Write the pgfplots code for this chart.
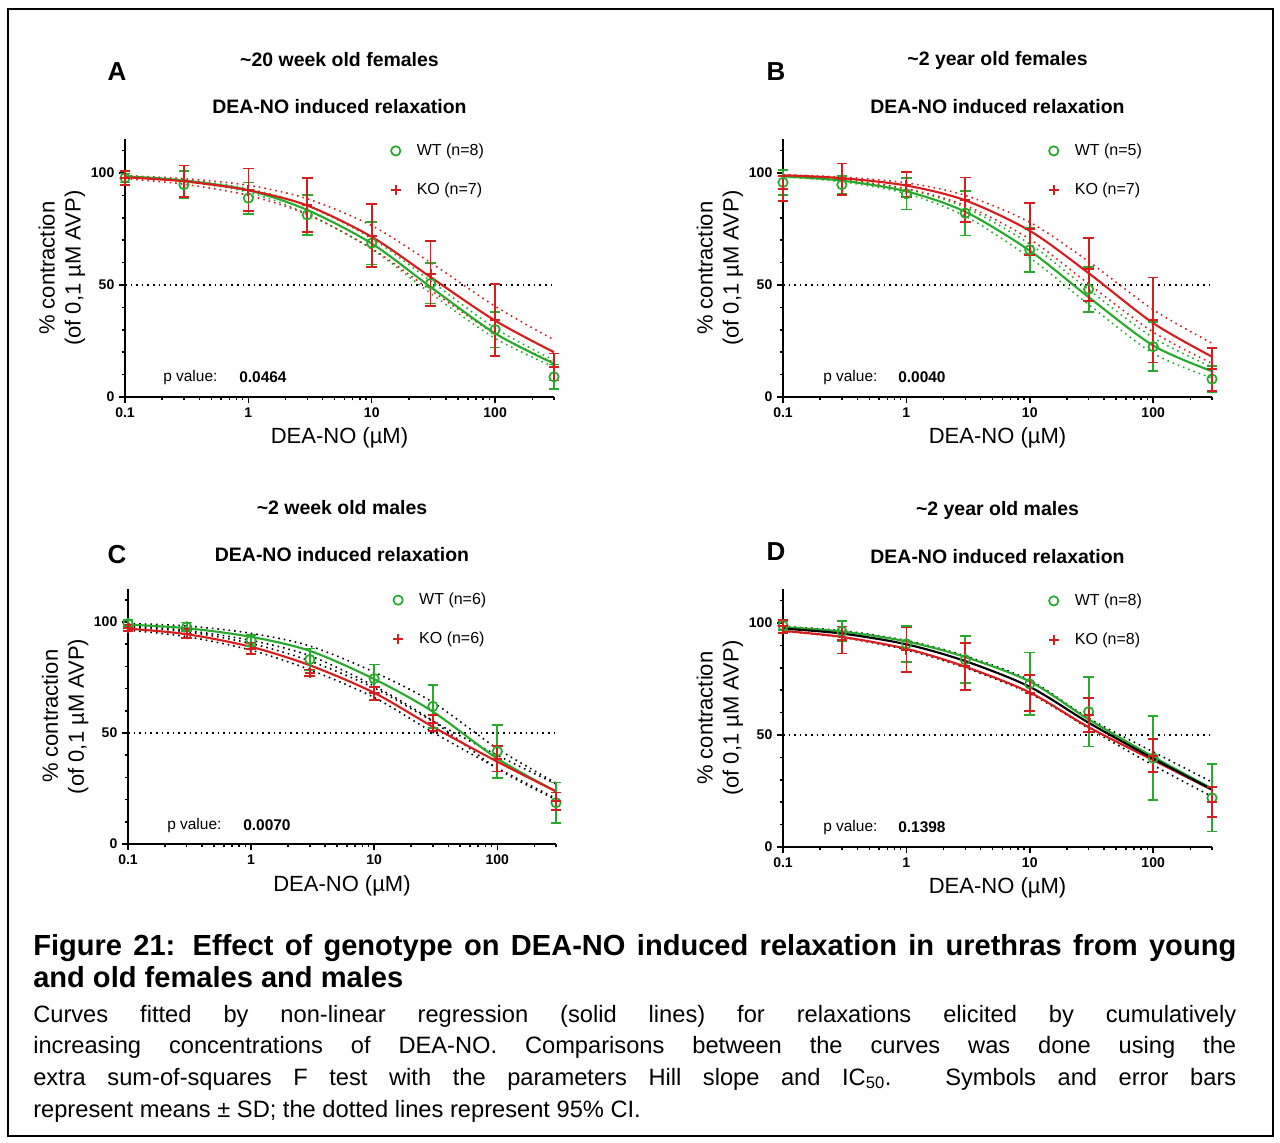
\documentclass[border=0pt]{standalone}
\usepackage{fontspec}
\setmainfont{Liberation Sans}
\usepackage{pgfplots}
\pgfplotsset{compat=1.18}
\definecolor{cgreen}{RGB}{40,170,45}
\definecolor{cred}{RGB}{215,30,30}

\pgfplotsset{
  every axis/.append style={
    scale only axis,
    axis lines=left, axis line style={-, line width=1.5pt},
    tick align=outside, major tick length=4.5pt, minor tick length=2.6pt,
    tick style={black, line width=1.1pt},
    ticklabel style={font=\fontsize{10.5}{12}\selectfont\bfseries},
    label style={font=\fontsize{16.5}{19.5}\selectfont},
    clip=false,
    legend cell align=left,
    legend style={at={(0.6187,0.988)}, anchor=north west, draw=none, fill=none,
      inner sep=0pt, row sep=17pt, column sep=11pt, nodes={inner sep=1pt},
      font=\fontsize{12}{14}\selectfont},
  },
  wtmark/.style={only marks, mark=o, mark size=3.5pt, line width=1.3pt, color=cgreen, mark options={solid},
    /pgfplots/error bars/y dir=both, /pgfplots/error bars/y explicit,
    /pgfplots/error bars/error bar style={line width=1.3pt, color=cgreen},
    /pgfplots/error bars/error mark options={rotate=90, mark size=4pt, line width=1.3pt, color=cgreen}},
  komark/.style={only marks, mark=+, mark size=3.8pt, line width=1.5pt, color=cred, mark options={solid},
    /pgfplots/error bars/y dir=both, /pgfplots/error bars/y explicit,
    /pgfplots/error bars/error bar style={line width=1.3pt, color=cred},
    /pgfplots/error bars/error mark options={rotate=90, mark size=4pt, line width=1.3pt, color=cred}},
}
\tikzset{
  fitline/.style={color=#1, line width=1.6pt, smooth},
  ciline/.style={color=#1, line width=1.2pt, dash pattern=on 1.2pt off 3pt, smooth},
  halfline/.style={color=black, line width=1.2pt, dash pattern=on 1.2pt off 3pt},
}

\begin{document}
\begin{tikzpicture}
\begin{scope}[x=0.75pt,y=-0.75pt]
\useasboundingbox (0,0) rectangle (1280,1142);
\draw[line width=1.5pt] (8,9) rectangle (1273,1136);
\end{scope}

% ---------------- Panel A
\begin{axis}[width=321.75pt, height=193.2pt, at={(93.75pt,-297.75pt)}, anchor=south west,
    xmode=log, xmin=0.1, xmax=300, ymin=0, ymax=115,
    xtick={0.1,1,10,100}, xticklabels={0.1,1,10,100},
    minor xtick={0.2,0.3,0.4,0.5,0.6,0.7,0.8,0.9,2,3,4,5,6,7,8,9,20,30,40,50,60,70,80,90,200,300},
    ytick={0,50,100}, yticklabels={0,50,100}, minor ytick={10,20,30,40,60,70,80,90,110},
    xlabel={DEA-NO (µM)}, ylabel={\% contraction\\(of 0,1 µM AVP)},
    ylabel style={at={(axis description cs:-0.147,0.5)}, anchor=center, align=center},
    xlabel style={at={(axis description cs:0.5,-0.159)}, anchor=center}]
\addplot[halfline, forget plot] coordinates {(0.1,50) (300,50)};
\addplot[ciline=cgreen, forget plot] coordinates {(0.1,98.7)(0.3,97.0)(1,93.0)(3,85.3)(10,70.8)(30,51.8)(100,30.7)(300,16.4)};
\addplot[ciline=cgreen, forget plot] coordinates {(0.1,98.3)(0.3,96.3)(1,91.4)(3,81.8)(10,66.0)(30,46.3)(100,26.2)(300,13.4)};
\addplot[ciline=cred, forget plot] coordinates {(0.1,98.8)(0.3,97.5)(1,94.5)(3,88.5)(10,76.5)(30,60.0)(100,40.5)(300,25.5)};
\addplot[ciline=cred, forget plot] coordinates {(0.1,97.5)(0.3,95.0)(1,90.0)(3,81.5)(10,66.3)(30,47.7)(100,28.2)(300,15.4)};
\addplot[fitline=cgreen, forget plot] coordinates {(0.1,98.5)(0.3,96.7)(1,92.3)(3,83.5)(10,68.5)(30,49.1)(100,28.4)(300,14.9)};
\addplot[fitline=cred, forget plot] coordinates {(0.1,98.1)(0.3,96.3)(1,92.3)(3,85.5)(10,71.5)(30,53.5)(100,34.1)(300,20.0)};
\addplot[wtmark] coordinates {(0.1,97.8)+-(0,2) (0.3,94.8)+-(0,6) (1,88.8)+-(0,7) (3,81.3)+-(0,9) (10,68.7)+-(0,9.5) (30,50.7)+-(0,9) (100,30.1)+-(0,8) (300,9.0)+-(0,5.5)};
\addlegendentry{WT (n=8)}
\addplot[komark] coordinates {(0.1,97.8)+-(0,3) (0.3,96.3)+-(0,7) (1,92.5)+-(0,9.5) (3,85.8)+-(0,12) (10,72.0)+-(0,14) (30,55.0)+-(0,14.5) (100,34.3)+-(0,16) (300,13.4)+-(0,6)};
\addlegendentry{KO (n=7)}
\end{axis}

% ---------------- Panel B
\begin{axis}[width=321.75pt, height=193.2pt, at={(587.25pt,-297.75pt)}, anchor=south west,
    xmode=log, xmin=0.1, xmax=300, ymin=0, ymax=115,
    xtick={0.1,1,10,100}, xticklabels={0.1,1,10,100},
    minor xtick={0.2,0.3,0.4,0.5,0.6,0.7,0.8,0.9,2,3,4,5,6,7,8,9,20,30,40,50,60,70,80,90,200,300},
    ytick={0,50,100}, yticklabels={0,50,100}, minor ytick={10,20,30,40,60,70,80,90,110},
    xlabel={DEA-NO (µM)}, ylabel={\% contraction\\(of 0,1 µM AVP)},
    ylabel style={at={(axis description cs:-0.147,0.5)}, anchor=center, align=center},
    xlabel style={at={(axis description cs:0.5,-0.159)}, anchor=center}]
\addplot[halfline, forget plot] coordinates {(0.1,50) (300,50)};
\addplot[ciline=cgreen, forget plot] coordinates {(0.1,98.7)(0.3,97.0)(1,92.8)(3,84.6)(10,68.3)(30,47.9)(100,26.5)(300,13.4)};
\addplot[ciline=cgreen, forget plot] coordinates {(0.1,98.3)(0.3,96.1)(1,90.8)(3,80.7)(10,62.2)(30,41.3)(100,19.5)(300,8.5)};
\addplot[ciline=cred, forget plot] coordinates {(0.1,99.2)(0.3,98.2)(1,95.6)(3,90.0)(10,78.0)(30,60.5)(100,39.0)(300,24.0)};
\addplot[ciline=cred, forget plot] coordinates {(0.1,98.6)(0.3,97.0)(1,93.0)(3,85.5)(10,70.5)(30,50.5)(100,29.0)(300,15.0)};
\addplot[fitline=cgreen, forget plot] coordinates {(0.1,98.5)(0.3,96.6)(1,91.8)(3,82.7)(10,65.3)(30,44.6)(100,23.0)(300,11.5)};
\addplot[fitline=cred, forget plot] coordinates {(0.1,99.0)(0.3,97.7)(1,94.4)(3,87.8)(10,74.2)(30,55.3)(100,33.0)(300,18.0)};
\addplot[wtmark] coordinates {(0.1,95.8)+-(0,5.5) (0.3,94.8)+-(0,4) (1,90.7)+-(0,7) (3,82.1)+-(0,10) (10,65.7)+-(0,10) (30,48.1)+-(0,10) (100,22.5)+-(0,11) (300,8.0)+-(0,6)};
\addlegendentry{WT (n=5)}
\addplot[komark] coordinates {(0.1,93.0)+-(0,5.5) (0.3,97.3)+-(0,7) (1,94.8)+-(0,5.5) (3,88.0)+-(0,10) (10,75.0)+-(0,11.5) (30,57.0)+-(0,14) (100,34.4)+-(0,19) (300,12.3)+-(0,9.6)};
\addlegendentry{KO (n=7)}
\end{axis}

% ---------------- Panel C
\begin{axis}[width=321pt, height=191.5pt, at={(96pt,-633pt)}, anchor=south west,
    xmode=log, xmin=0.1, xmax=300, ymin=0, ymax=115,
    xtick={0.1,1,10,100}, xticklabels={0.1,1,10,100},
    minor xtick={0.2,0.3,0.4,0.5,0.6,0.7,0.8,0.9,2,3,4,5,6,7,8,9,20,30,40,50,60,70,80,90,200,300},
    ytick={0,50,100}, yticklabels={0,50,100}, minor ytick={10,20,30,40,60,70,80,90,110},
    xlabel={DEA-NO (µM)}, ylabel={\% contraction\\(of 0,1 µM AVP)},
    ylabel style={at={(axis description cs:-0.147,0.5)}, anchor=center, align=center},
    xlabel style={at={(axis description cs:0.5,-0.1645)}, anchor=center}]
\addplot[halfline, forget plot] coordinates {(0.1,50) (300,50)};
\addplot[ciline=black, forget plot] coordinates {(0.1,99.3)(0.3,98.2)(1,94.9)(3,89.2)(10,77.4)(30,63.8)(100,43.0)(300,27.5)};
\addplot[ciline=black, forget plot] coordinates {(0.1,98.3)(0.3,96.2)(1,91.7)(3,84.8)(10,71.2)(30,55.4)(100,34.0)(300,20.0)};
\addplot[ciline=black, forget plot] coordinates {(0.1,97.7)(0.3,95.6)(1,90.3)(3,82.5)(10,70.3)(30,55.3)(100,40.0)(300,27.0)};
\addplot[ciline=black, forget plot] coordinates {(0.1,96.3)(0.3,93.4)(1,87.3)(3,78.5)(10,66.0)(30,50.3)(100,34.2)(300,20.5)};
\addplot[fitline=cgreen, forget plot] coordinates {(0.1,98.8)(0.3,97.2)(1,93.3)(3,87.0)(10,74.3)(30,59.6)(100,38.5)(300,23.7)};
\addplot[fitline=cred, forget plot] coordinates {(0.1,97.0)(0.3,94.5)(1,88.8)(3,80.5)(10,68.1)(30,52.8)(100,37.1)(300,23.7)};
\addplot[wtmark] coordinates {(0.1,99.3)+-(0,1.5) (0.3,97.8)+-(0,2) (1,91.8)+-(0,2.5) (3,83.1)+-(0,5) (10,74.5)+-(0,6.4) (30,62.0)+-(0,9.6) (100,41.7)+-(0,12) (300,18.6)+-(0,9.1)};
\addlegendentry{WT (n=6)}
\addplot[komark] coordinates {(0.1,97.3)+-(0,1.5) (0.3,94.8)+-(0,2) (1,88.0)+-(0,2.5) (3,77.1)+-(0,1.5) (10,67.8)+-(0,3) (30,54.5)+-(0,3.5) (100,38.5)+-(0,5.8) (300,19.3)+-(0,3.9)};
\addlegendentry{KO (n=6)}
\end{axis}

% ---------------- Panel D
\begin{axis}[width=321.75pt, height=193.2pt, at={(587.25pt,-635.25pt)}, anchor=south west,
    xmode=log, xmin=0.1, xmax=300, ymin=0, ymax=115,
    xtick={0.1,1,10,100}, xticklabels={0.1,1,10,100},
    minor xtick={0.2,0.3,0.4,0.5,0.6,0.7,0.8,0.9,2,3,4,5,6,7,8,9,20,30,40,50,60,70,80,90,200,300},
    ytick={0,50,100}, yticklabels={0,50,100}, minor ytick={10,20,30,40,60,70,80,90,110},
    xlabel={DEA-NO (µM)}, ylabel={\% contraction\\(of 0,1 µM AVP)},
    ylabel style={at={(axis description cs:-0.147,0.5)}, anchor=center, align=center},
    xlabel style={at={(axis description cs:0.5,-0.159)}, anchor=center}]
\addplot[halfline, forget plot] coordinates {(0.1,50) (300,50)};
\addplot[ciline=black, forget plot] coordinates {(0.1,98.4)(0.3,96.6)(1,92.2)(3,85.3)(10,74.5)(30,57.5)(100,42.5)(300,29.0)};
\addplot[ciline=black, forget plot] coordinates {(0.1,96.3)(0.3,93.6)(1,88.0)(3,80.0)(10,68.5)(30,53.0)(100,36.5)(300,22.5)};
\addplot[fitline=cgreen, forget plot] coordinates {(0.1,98.2)(0.3,96.2)(1,91.8)(3,84.8)(10,73.9)(30,57.0)(100,40.3)(300,26.1)};
\addplot[fitline=cred, forget plot] coordinates {(0.1,96.5)(0.3,93.8)(1,88.5)(3,80.5)(10,69.0)(30,53.5)(100,38.8)(300,25.5)};
\addplot[fitline=black, forget plot] coordinates {(0.1,97.5)(0.3,95.3)(1,90.5)(3,83.0)(10,71.5)(30,55.5)(100,39.5)(300,25.7)};
\addplot[wtmark] coordinates {(0.1,98.8)+-(0,2) (0.3,96.3)+-(0,4.5) (1,90.7)+-(0,8) (3,83.6)+-(0,10.5) (10,72.8)+-(0,14) (30,60.4)+-(0,15.5) (100,39.7)+-(0,18.7) (300,21.9)+-(0,15)};
\addlegendentry{WT (n=8)}
\addplot[komark] coordinates {(0.1,98.5)+-(0,3) (0.3,92.4)+-(0,6) (1,88.0)+-(0,10) (3,80.6)+-(0,10.5) (10,68.7)+-(0,8) (30,59.0)+-(0,7.5) (100,40.8)+-(0,7.4) (300,20.0)+-(0,6.7)};
\addlegendentry{KO (n=8)}
\end{axis}

% ---------------- titles, letters, p values, caption
\begin{scope}[x=0.75pt,y=-0.75pt,every node/.style={inner sep=0pt}]
\node[font=\fontsize{14.6}{17}\selectfont\bfseries] at (339.5,60) {\textasciitilde 20 week old females};
\node[font=\fontsize{14.6}{17}\selectfont\bfseries] at (339.5,107) {DEA-NO induced relaxation};
\node[font=\fontsize{14.6}{17}\selectfont\bfseries] at (997.5,60) {\textasciitilde 2 year old females};
\node[font=\fontsize{14.6}{17}\selectfont\bfseries] at (997.5,107) {DEA-NO induced relaxation};
\node[font=\fontsize{14.6}{17}\selectfont\bfseries] at (342,508) {\textasciitilde 2 week old males};
\node[font=\fontsize{14.6}{17}\selectfont\bfseries] at (342,555) {DEA-NO induced relaxation};
\node[font=\fontsize{14.6}{17}\selectfont\bfseries] at (997.5,510) {\textasciitilde 2 year old males};
\node[font=\fontsize{14.6}{17}\selectfont\bfseries] at (997.5,557) {DEA-NO induced relaxation};

\node[font=\fontsize{19.5}{22}\selectfont\bfseries] at (117,72) {A};
\node[font=\fontsize{19.5}{22}\selectfont\bfseries] at (776,72) {B};
\node[font=\fontsize{19.5}{22}\selectfont\bfseries] at (117,555) {C};
\node[font=\fontsize{19.5}{22}\selectfont\bfseries] at (776,552) {D};

\node[anchor=west, font=\fontsize{11.6}{13}\selectfont] at (163,377) {p value:};
\node[anchor=west, font=\fontsize{11.6}{13}\selectfont\bfseries] at (239,377) {0.0464};
\node[anchor=west, font=\fontsize{11.6}{13}\selectfont] at (823,377) {p value:};
\node[anchor=west, font=\fontsize{11.6}{13}\selectfont\bfseries] at (898,377) {0.0040};
\node[anchor=west, font=\fontsize{11.6}{13}\selectfont] at (167,825) {p value:};
\node[anchor=west, font=\fontsize{11.6}{13}\selectfont\bfseries] at (243,825) {0.0070};
\node[anchor=west, font=\fontsize{11.6}{13}\selectfont] at (823,827) {p value:};
\node[anchor=west, font=\fontsize{11.6}{13}\selectfont\bfseries] at (898,827) {0.1398};

\node[anchor=base west, font=\fontsize{21.8}{26}\selectfont\bfseries] at (33,955)
  {\makebox[902.25pt][s]{Figure 21: Effect of genotype on DEA-NO induced relaxation in urethras from young}};
\node[anchor=base west, font=\fontsize{21.8}{26}\selectfont\bfseries] at (33,987)
  {and old females and males};
\node[anchor=base west, font=\fontsize{17.75}{21}\selectfont] at (33,1022)
  {\makebox[902.25pt][s]{Curves fitted by non-linear regression (solid lines) for relaxations elicited by cumulatively}};
\node[anchor=base west, font=\fontsize{17.75}{21}\selectfont] at (33,1053)
  {\makebox[902.25pt][s]{increasing concentrations of DEA-NO. Comparisons between the curves was done using the}};
\node[anchor=base west, font=\fontsize{17.75}{21}\selectfont] at (33,1085)
  {\makebox[902.25pt][s]{extra sum-of-squares F test with the parameters Hill slope and IC\textsubscript{50}. Symbols and error bars}};
\node[anchor=base west, font=\fontsize{17.75}{21}\selectfont] at (33,1117)
  {represent means ± SD; the dotted lines represent 95\% CI.};
\end{scope}
\end{tikzpicture}
\end{document}
